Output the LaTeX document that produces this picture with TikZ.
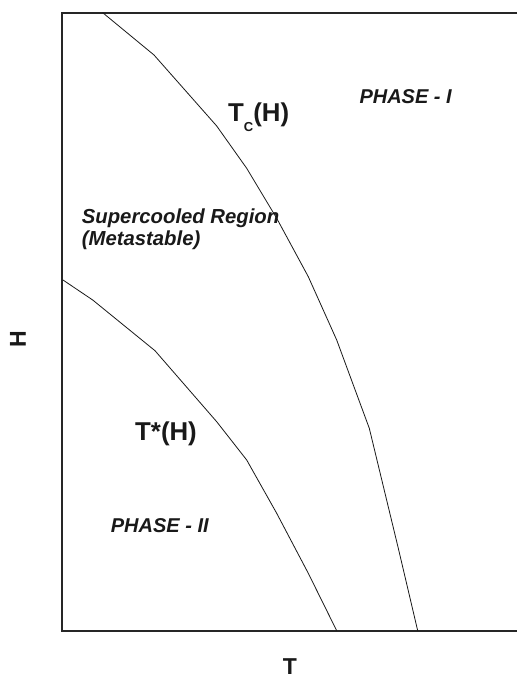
\documentclass[tikz,border=0pt]{standalone}
\usepackage{fontspec}
\setmainfont{Liberation Sans}
\begin{document}
\begin{tikzpicture}[
    x=1pt, y=-1pt,
    frame/.style={draw=black!85, line width=1.8pt},
    curve/.style={draw=black!90, line width=0.8pt, line join=round},
    lbl/.style={inner sep=0pt, anchor=base west, text=black!90,
                font=\bfseries\fontsize{25.8}{30}\selectfont},
    region/.style={inner sep=0pt, anchor=base west, text=black!90, align=left,
                   font=\bfseries\itshape\fontsize{20}{21.7}\selectfont},
    axis/.style={inner sep=0pt, text=black!90,
                 font=\bfseries\fontsize{23}{26}\selectfont}
]
\useasboundingbox (0,0) rectangle (517,679);

% axes frame (open on the right)
\draw[frame] (517,12.7) -| (62,630.7) -- (517,630.7);

% phase boundaries
\draw[curve] (102.7,12.7) -- (154,55) -- (216.7,126) -- (246.7,168.3)
    -- (276.7,218.3) -- (308.3,276.7) -- (336.7,340) -- (369.3,428.3)
    -- (398.3,548.3) -- (417.7,630.7);
\draw[curve] (63,280) -- (92.7,300) -- (155,350.7) -- (216.7,421.7)
    -- (246.7,460) -- (276.7,513.3) -- (308.3,573.3) -- (336.7,630.7);

% labels
\node[lbl] (tc) at (228,121.7) {T\raisebox{-10pt}{\fontsize{13}{13}\selectfont C}(H)};
\node[lbl] (tstar) at (135,440.7) {T*(H)};
\node[region] (ph1) at (359.3,104) {PHASE - I};
\node[region] (ph2) at (110.7,532.7) {PHASE - II};
\node[region, font=\bfseries\itshape\fontsize{20.3}{21.7}\selectfont] (super) at (81.7,245) {Supercooled Region\\(Metastable)};
\node[axis, rotate=90] (haxis) at (18,339) {H};
\node[axis, anchor=base] (taxis) at (290,674.5) {T};
\end{tikzpicture}
\end{document}
